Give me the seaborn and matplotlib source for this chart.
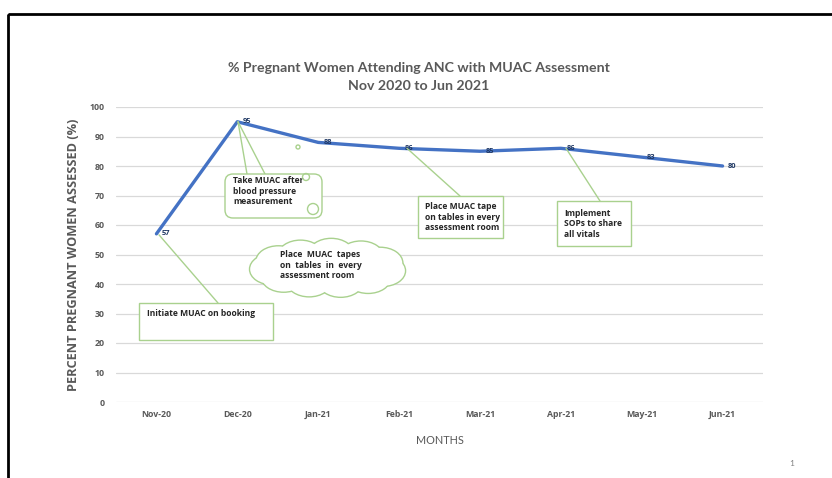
import matplotlib
matplotlib.use("Agg")
import matplotlib.pyplot as plt
import matplotlib.transforms as mtransforms
from matplotlib.patches import Rectangle, FancyBboxPatch, Circle, Ellipse
import seaborn as sns
import pandas as pd
import numpy as np

months = ["Nov-20", "Dec-20", "Jan-21", "Feb-21", "Mar-21", "Apr-21", "May-21", "Jun-21"]
values = [57, 95, 88, 86, 85, 86, 83, 80]
yticks = [0, 10, 20, 30, 40, 50, 60, 70, 80, 90, 100]
title_text = "% Pregnant Women Attending ANC with MUAC Assessment\nNov 2020 to Jun 2021"
ylabel_text = "PERCENT PREGNANT WOMEN ASSESSED (%)"
xlabel_text = "MONTHS"

sns.set_theme(style="white")
plt.rcParams["font.family"] = ["Lato", "DejaVu Sans"]
BF = ["Open Sans", "DejaVu Sans"]

W, H = 832, 478
fig = plt.figure(figsize=(W / 100, H / 100), dpi=100)
PX = mtransforms.Affine2D().scale(1 / 100, -1 / 100).translate(0, H / 100) + fig.dpi_scale_trans

ax_l, ax_r, ax_t, ax_b = 116, 763, 107, 402
ax = fig.add_axes([ax_l / W, 1 - ax_b / H, (ax_r - ax_l) / W, (ax_b - ax_t) / H])

df = pd.DataFrame({"month": months, "value": values})
sns.lineplot(data=df, x="month", y="value", ax=ax, color="#4472C4", linewidth=2.4, sort=False, zorder=3)

ax.set_xlim(-0.5, len(months) - 0.5)
ax.set_ylim(0, 100)
tick_font = dict(family=BF, weight="bold", size=6.3, color="#595959")
ax.set_yticks(yticks, [str(t) for t in yticks], **tick_font)
ax.set_xticks(range(len(months)), months, **tick_font)
for s in ax.spines.values():
    s.set_visible(False)
ax.grid(axis="y", color="#D9D9D9", linewidth=0.9)
ax.grid(axis="x", visible=False)
ax.tick_params(axis="both", length=0)
ax.tick_params(axis="y", pad=8)
ax.tick_params(axis="x", pad=6)

ax.set_ylabel(ylabel_text, fontsize=9.2, fontweight="bold", color="#595959", family=BF)
ax.yaxis.set_label_coords((80 - ax_l) / (ax_r - ax_l), 0.5)
ax.set_xlabel(xlabel_text, fontsize=7.8, color="#595959")
ax.xaxis.set_label_coords(0.5, -(435 - ax_b) / (ax_b - ax_t))

# data labels
for i, v in enumerate(values):
    ax.annotate(str(v), (i, v), xytext=(4, 0), textcoords="offset points",
                ha="left", va="center", fontsize=5.4, fontweight="bold", color="#1F3864",
                family=BF, zorder=4)

# title
fig.text(419, 77, title_text, transform=PX, ha="center", va="center", fontsize=10.2,
         fontweight="bold", color="#595959", linespacing=1.5)

green = "#A9D18E"
txt_kw = dict(transform=PX, fontsize=6.1, fontweight="bold", color="#262626", family=BF,
              linespacing=1.15, zorder=8)

def data_px(i, v):
    return 157 + 81 * i, 402 - 2.95 * v

# 1. Take MUAC after blood pressure measurement (wedge callout)
px0, py0 = data_px(1, values[1])
fig.add_artist(plt.Line2D([px0, 247], [py0, 174], transform=PX, color=green, lw=1))
fig.add_artist(plt.Line2D([px0, 265], [py0, 174], transform=PX, color=green, lw=1))
fig.add_artist(FancyBboxPatch((225, 174), 97, 44, boxstyle="round,pad=0,rounding_size=8",
                              transform=PX, facecolor="white", edgecolor=green, lw=1, zorder=5))
fig.text(233, 191, "Take MUAC after\nblood pressure\nmeasurement", ha="left", va="center", **txt_kw)
for (cx, cy, r) in [(298, 147, 2), (306, 177, 3.5), (313, 209, 5.5)]:
    fig.add_artist(Circle((cx, cy), r, transform=PX, facecolor="none", edgecolor=green, lw=1, zorder=9))

# 2. Cloud
cloud_c = (328, 268)
angles = np.linspace(0, 2 * np.pi, 11, endpoint=False) + 0.2
bumps = [(cloud_c[0] + 56 * np.cos(a), cloud_c[1] + 14 * np.sin(a)) for a in angles]
for (bx, by) in bumps:
    fig.add_artist(Ellipse((bx, by), 44, 30, transform=PX, facecolor="white", edgecolor=green, lw=2, zorder=5))
for (bx, by) in bumps:
    fig.add_artist(Ellipse((bx, by), 44, 30, transform=PX, facecolor="white", edgecolor="none", zorder=6))
fig.add_artist(Ellipse(cloud_c, 120, 34, transform=PX, facecolor="white", edgecolor="none", zorder=6))
fig.text(280, 265, "Place  MUAC  tapes\non  tables  in  every\nassessment room", ha="left", va="center", **txt_kw)

# 3. Initiate MUAC on booking
px0, py0 = data_px(0, values[0])
fig.add_artist(plt.Line2D([px0 + 2, 218], [py0 + 1, 303], transform=PX, color=green, lw=1))
fig.add_artist(Rectangle((139, 303), 134, 37, transform=PX, facecolor="white", edgecolor=green, lw=1, zorder=5))
fig.text(147, 313, "Initiate MUAC on booking", ha="left", va="center", **txt_kw)

# 4. Place MUAC tape on tables
px0, py0 = data_px(3, values[3])
fig.add_artist(plt.Line2D([px0 + 7, 460], [py0, 196], transform=PX, color=green, lw=1))
fig.add_artist(Rectangle((418, 196), 85, 42, transform=PX, facecolor="white", edgecolor=green, lw=1, zorder=5))
fig.text(425, 217, "Place MUAC tape\non tables in every\nassessment room", ha="left", va="center", **txt_kw)

# 5. Implement SOPs
px0, py0 = data_px(5, values[5])
fig.add_artist(plt.Line2D([px0 + 4, 600], [py0, 201], transform=PX, color=green, lw=1))
fig.add_artist(Rectangle((557, 201), 74, 45, transform=PX, facecolor="white", edgecolor=green, lw=1, zorder=5))
fig.text(564, 224, "Implement\nSOPs to share\nall vitals", ha="left", va="center", **txt_kw)

# slide frame and page number
fig.add_artist(Rectangle((8, 14), 840, 480, transform=PX, facecolor="none", edgecolor="black", lw=2, clip_on=False))
fig.text(792, 463, "1", transform=PX, ha="center", va="center", fontsize=6, color="#808080")

fig.savefig("out.png", dpi=100)
